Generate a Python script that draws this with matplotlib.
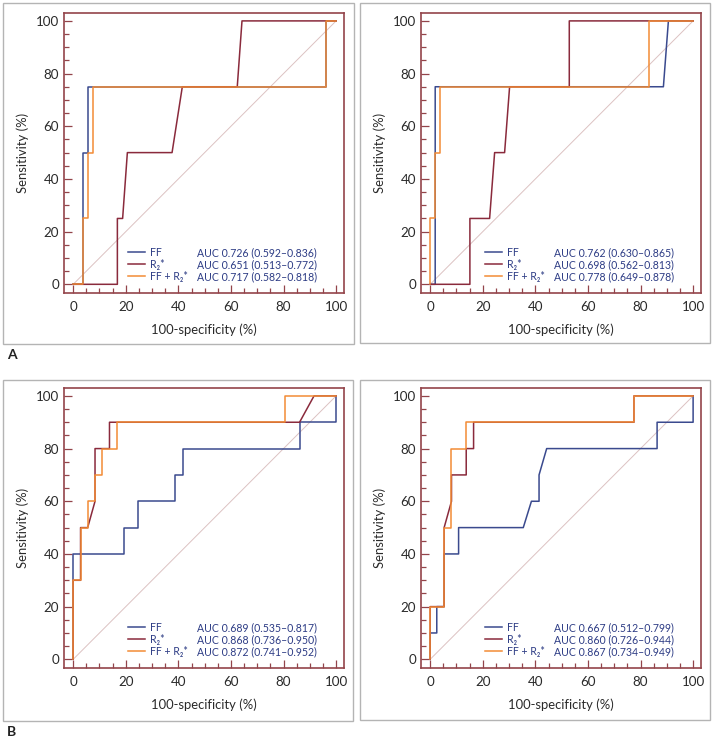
import matplotlib
matplotlib.use("Agg")
import matplotlib.pyplot as plt
from matplotlib.patches import Rectangle
from matplotlib.ticker import MultipleLocator

plt.rcParams['font.family'] = ['Lato', 'DejaVu Sans']

# ROC vertices (100-specificity %, sensitivity %) read off the reference
# Panel A, left
a1_ff_x = [0, 3.6, 3.6, 5.5, 5.5, 96.2, 96.2, 100]
a1_ff_y = [0, 0, 50, 50, 75, 75, 100, 100]
a1_r2_x = [0, 16.8, 16.8, 18.8, 20.6, 37.6, 41.5, 62.4, 64.2, 100]
a1_r2_y = [0, 0, 25, 25, 50, 50, 75, 75, 100, 100]
a1_co_x = [0, 3.6, 3.6, 5.5, 5.5, 7.5, 7.5, 96.2, 96.2, 100]
a1_co_y = [0, 0, 25, 25, 50, 50, 75, 75, 100, 100]
a1_auc = ["AUC 0.726 (0.592\u20130.836)", "AUC 0.651 (0.513\u20130.772)",
          "AUC 0.717 (0.582\u20130.818)"]

# Panel A, right
a2_ff_x = [0, 1.9, 1.9, 88.7, 90.6, 100]
a2_ff_y = [0, 0, 75, 75, 100, 100]
a2_r2_x = [0, 15.1, 15.1, 22.6, 24.5, 28.3, 30.2, 52.9, 52.9, 100]
a2_r2_y = [0, 0, 25, 25, 50, 50, 75, 75, 100, 100]
a2_co_x = [0, 0, 1.9, 1.9, 3.9, 3.9, 83.1, 83.1, 100]
a2_co_y = [0, 25, 25, 50, 50, 75, 75, 100, 100]
a2_auc = ["AUC 0.762 (0.630\u20130.865)", "AUC 0.698 (0.562\u20130.813)",
          "AUC 0.778 (0.649\u20130.878)"]

# Panel B, left
b1_ff_x = [0, 0, 19.4, 19.4, 24.7, 24.7, 38.9, 38.9, 41.6, 41.6, 86.3, 86.3, 100, 100]
b1_ff_y = [0, 40, 40, 50, 50, 60, 60, 70, 70, 80, 80, 90, 90, 100]
b1_r2_x = [0, 0, 2.8, 2.8, 5.5, 8.3, 8.3, 13.8, 13.8, 86.1, 91.6, 100]
b1_r2_y = [0, 30, 30, 50, 50, 60, 80, 80, 90, 90, 100, 100]
b1_co_x = [0, 0, 2.8, 2.8, 5.5, 5.5, 8.3, 8.3, 11.1, 11.1, 16.6, 16.6, 80.6, 80.6, 100]
b1_co_y = [0, 30, 30, 50, 50, 60, 60, 70, 70, 80, 80, 90, 90, 100, 100]
b1_auc = ["AUC 0.689 (0.535\u20130.817)", "AUC 0.868 (0.736\u20130.950)",
          "AUC 0.872 (0.741\u20130.952)"]

# Panel B, right
b2_ff_x = [0, 0, 2.5, 2.5, 5.3, 5.3, 10.8, 10.8, 35.4, 38.5, 41.4, 41.4, 44.3, 86.3, 86.3, 100, 100]
b2_ff_y = [0, 10, 10, 20, 20, 40, 40, 50, 50, 60, 60, 70, 80, 80, 90, 90, 100]
b2_r2_x = [0, 0, 5.3, 5.3, 8.1, 8.1, 13.7, 13.7, 16.5, 16.5, 77.5, 77.5, 100]
b2_r2_y = [0, 20, 20, 50, 60, 70, 70, 80, 80, 90, 90, 100, 100]
b2_co_x = [0, 0, 5.3, 5.3, 8.1, 8.1, 13.7, 13.7, 77.5, 77.5, 100]
b2_co_y = [0, 20, 20, 50, 50, 80, 80, 90, 90, 100, 100]
b2_auc = ["AUC 0.667 (0.512\u20130.799)", "AUC 0.860 (0.726\u20130.944)",
          "AUC 0.867 (0.734\u20130.949)"]

labels = ["FF", "R\u2082*", "FF + R\u2082*"]
colors = ["#3a4a8e", "#8a2a3c", "#f28b35"]
spine_col = "#93444a"
text_col = "#2d3c85"

fig = plt.figure(figsize=(7.14, 7.38), dpi=100)
W, H = 714, 738


def fig_rect(x0, y0, x1, y1):
    # pixel box (top-left origin) -> figure fraction rect
    return [x0 / W, 1 - y1 / H, (x1 - x0) / W, (y1 - y0) / H]


panels = [
    ((64, 13, 344, 293), (3, 3, 354, 344),
     [(a1_ff_x, a1_ff_y), (a1_r2_x, a1_r2_y), (a1_co_x, a1_co_y)], a1_auc),
    ((421, 13, 701, 293), (360, 3, 710, 343),
     [(a2_ff_x, a2_ff_y), (a2_r2_x, a2_r2_y), (a2_co_x, a2_co_y)], a2_auc),
    ((64, 388, 344, 668), (3, 380, 353, 721),
     [(b1_ff_x, b1_ff_y), (b1_r2_x, b1_r2_y), (b1_co_x, b1_co_y)], b1_auc),
    ((421, 388, 701, 668), (360, 380, 710, 720),
     [(b2_ff_x, b2_ff_y), (b2_r2_x, b2_r2_y), (b2_co_x, b2_co_y)], b2_auc),
]

for ax_box, frame, curves, aucs in panels:
    # gray frame round each panel
    fx0, fy0, fx1, fy1 = frame
    fig.patches.append(Rectangle((fx0 / W, 1 - fy1 / H), (fx1 - fx0) / W, (fy1 - fy0) / H,
                                 transform=fig.transFigure, fill=False,
                                 edgecolor="#b4b4b4", linewidth=1.0))

    ax = fig.add_axes(fig_rect(*ax_box))
    ax.plot([0, 100], [0, 100], color="#dcc2c2", linewidth=0.7, zorder=1)
    for (xs, ys), c in zip(curves, colors):
        ax.plot(xs, ys, color=c, linewidth=1.1, zorder=2)

    ax.set_xlim(-3.5, 103)
    ax.set_ylim(-3.3, 103)
    ax.xaxis.set_major_locator(MultipleLocator(20))
    ax.yaxis.set_major_locator(MultipleLocator(20))
    ax.xaxis.set_minor_locator(MultipleLocator(5))
    ax.yaxis.set_minor_locator(MultipleLocator(5))
    ax.tick_params(which="both", direction="in", color=spine_col, width=0.9)
    ax.tick_params(which="major", length=6, labelsize=9.6, labelcolor="#2a2a2a")
    ax.tick_params(axis="x", which="major", pad=6)
    ax.tick_params(axis="y", which="major", pad=3.5)
    ax.tick_params(which="minor", length=3.5)
    for s in ax.spines.values():
        s.set_color(spine_col)
        s.set_linewidth(1.2)

    ax.set_xlabel("100-specificity (%)", fontsize=9.4, color="#2a2a2a", labelpad=7)
    ax.set_ylabel("Sensitivity (%)", fontsize=9.4, color="#2a2a2a", labelpad=5)

    # legend block drawn by hand so the AUC column lines up
    for i, (lab, auc, c) in enumerate(zip(labels, aucs, colors)):
        yy = 0.145 - i * 0.043
        ax.plot([0.228, 0.288], [yy, yy], color=c, linewidth=1.1, transform=ax.transAxes)
        ax.text(0.308, yy, lab, transform=ax.transAxes, fontsize=7.6,
                color=text_col, va="center", ha="left")
        ax.text(0.476, yy, auc, transform=ax.transAxes, fontsize=7.6,
                color=text_col, va="center", ha="left")

fig.text(7 / W, 1 - 355 / H, "A", fontsize=10, fontweight="bold", color="#222222",
         ha="left", va="center")
fig.text(7 / W, 1 - 732 / H, "B", fontsize=10, fontweight="bold", color="#222222",
         ha="left", va="center")

fig.savefig("out.png", dpi=100)
